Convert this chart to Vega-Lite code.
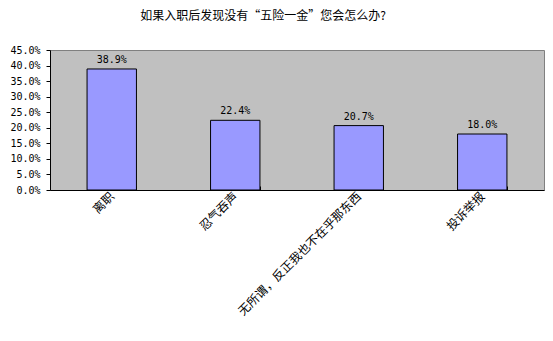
{
  "$schema": "https://vega.github.io/schema/vega-lite/v6.json",
  "autosize": {"type": "none"},
  "width": 494,
  "height": 140,
  "padding": {"left": 50, "top": 50, "right": 9, "bottom": 151},
  "background": "white",
  "title": {
    "text": "如果入职后发现没有“五险一金”您会怎么办?",
    "font": "Noto Sans CJK SC",
    "fontSize": 12,
    "fontWeight": "normal",
    "color": "black",
    "anchor": "middle",
    "dx": -34,
    "offset": 22
  },
  "config": {
    "view": {"fill": "#C0C0C0", "stroke": "#808080", "strokeWidth": 1},
    "axis": {"labelColor": "black", "domainColor": "black", "tickColor": "black", "grid": false, "title": null}
  },
  "data": {
    "values": [
      {"category": "离职", "value": 0.389},
      {"category": "忍气吞声", "value": 0.224},
      {"category": "无所谓，反正我也不在乎那东西", "value": 0.207},
      {"category": "投诉举报", "value": 0.18}
    ]
  },
  "encoding": {
    "x": {
      "field": "category",
      "type": "nominal",
      "sort": null,
      "scale": {"paddingInner": 0.6, "paddingOuter": 0.3},
      "axis": {
        "labelAngle": -45,
        "labelFont": "Noto Sans CJK SC",
        "labelFontSize": 12,
        "labelAlign": "right",
        "labelBaseline": "middle",
        "labelPadding": 8,
        "tickBand": "extent",
        "tickSize": -4,
        "labelLimit": 400
      }
    },
    "y": {
      "field": "value",
      "type": "quantitative",
      "scale": {"domain": [0, 0.45]},
      "axis": {
        "format": ".1%",
        "values": [0, 0.05, 0.1, 0.15, 0.2, 0.25, 0.3, 0.35, 0.4, 0.45],
        "labelFont": "DejaVu Sans Mono",
        "labelFontSize": 10,
        "tickSize": 4,
        "labelPadding": 6
      }
    }
  },
  "layer": [
    {"mark": {"type": "bar", "color": "#9999FF", "stroke": "black", "strokeWidth": 1}},
    {
      "mark": {"type": "text", "baseline": "bottom", "dy": -4, "font": "DejaVu Sans Mono", "fontSize": 10, "color": "black"},
      "encoding": {"text": {"field": "value", "type": "quantitative", "format": ".1%"}}
    }
  ]
}
